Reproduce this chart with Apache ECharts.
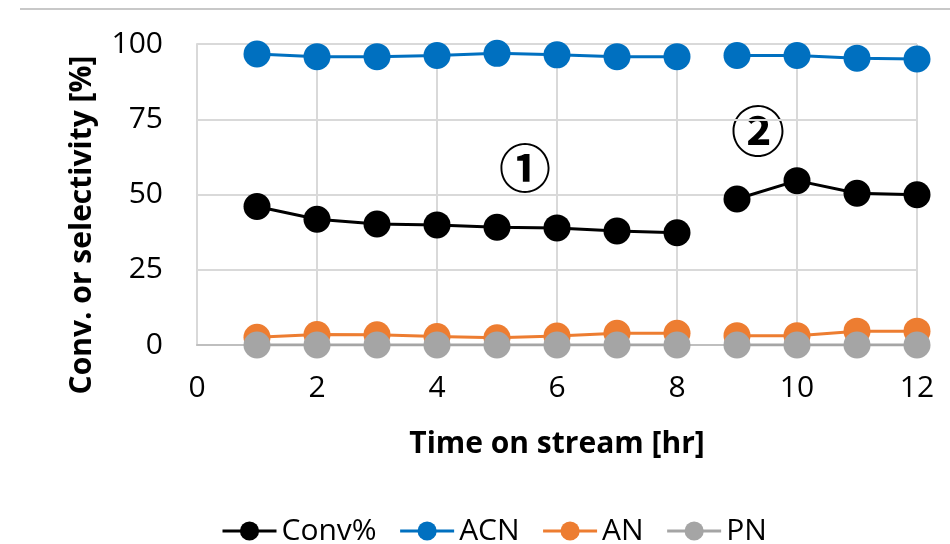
<!DOCTYPE html>
<html>
<head>
<meta charset="utf-8">
<script src="https://cdn.jsdelivr.net/npm/echarts@6/dist/echarts.min.js"></script>
<style>
  html, body { margin: 0; padding: 0; background: #fff; }
  #chart { width: 950px; height: 544px; }
</style>
</head>
<body>
<div id="chart"></div>
<script>
// Time on stream [hr]; the run is split into two stages after hour 8
const times = [1, 2, 3, 4, 5, 6, 7, 8, 9, 10, 11, 12];
const stageSplit = 8; // first index of stage 2

const conv = [46.0, 41.8, 40.2, 39.9, 39.1, 38.9, 37.9, 37.3, 48.5, 54.6, 50.4, 49.9];
const acn  = [96.7, 95.8, 95.8, 96.2, 96.9, 96.4, 95.8, 95.8, 96.2, 96.2, 95.3, 95.0];
const an   = [2.6, 3.5, 3.4, 2.8, 2.4, 3.0, 3.9, 3.9, 3.1, 3.1, 4.6, 4.6];
const pn   = [0, 0, 0, 0, 0, 0, 0, 0, 0, 0, 0, 0];

const xTicks = { min: 0, max: 12, interval: 2 };
const yTicks = { min: 0, max: 100, interval: 25 };

const seriesDefs = [
  { name: 'Conv%', values: conv, color: '#000000' },
  { name: 'ACN',   values: acn,  color: '#0070C0' },
  { name: 'AN',    values: an,   color: '#ED7D31' },
  { name: 'PN',    values: pn,   color: '#A5A5A5' }
];

const FONT = '"Open Sans", "Noto Sans", sans-serif';

// each compound gets two line pieces, one per stage, sharing a legend name
const series = [];
seriesDefs.forEach(def => {
  const pairs = times.map((t, i) => [t, def.values[i]]);
  [pairs.slice(0, stageSplit), pairs.slice(stageSplit)].forEach(part => {
    series.push({
      name: def.name,
      type: 'line',
      data: part,
      symbol: 'circle',
      symbolSize: 27,
      showSymbol: true,
      itemStyle: { color: def.color },
      lineStyle: { color: def.color, width: 3 },
      emphasis: { disabled: true },
      animation: false
    });
  });
});

const chart = echarts.init(document.getElementById('chart'));
chart.setOption({
  animation: false,
  grid: { left: 197, right: 33, top: 44, bottom: 199 },
  xAxis: {
    type: 'value',
    min: xTicks.min, max: xTicks.max, interval: xTicks.interval,
    name: 'Time on stream [hr]',
    nameLocation: 'middle',
    nameGap: 84,
    nameTextStyle: { fontFamily: FONT, fontSize: 30, fontWeight: 'bold', color: '#000' },
    axisLine: { show: true, lineStyle: { color: '#bfbfbf', width: 2 } },
    axisTick: { show: false },
    axisLabel: { fontFamily: FONT, fontSize: 30, color: '#000', margin: 28 },
    splitLine: { show: true, lineStyle: { color: '#d9d9d9', width: 2 } }
  },
  yAxis: {
    type: 'value',
    min: yTicks.min, max: yTicks.max, interval: yTicks.interval,
    axisLine: { show: true, lineStyle: { color: '#d9d9d9', width: 2 } },
    axisTick: { show: false },
    axisLabel: { fontFamily: FONT, fontSize: 30, color: '#000', margin: 34 },
    splitLine: { show: true, lineStyle: { color: '#d9d9d9', width: 2 } }
  },
  legend: {
    data: seriesDefs.map(d => d.name),
    left: 216,
    top: 511,
    itemWidth: 54,
    itemHeight: 24,
    itemGap: 22,
    lineStyle: { width: 3 },
    textStyle: { fontFamily: FONT, fontSize: 30, color: '#000' },
    selectedMode: false
  },
  graphic: [
    {
      type: 'line',
      shape: { x1: 20, y1: 9, x2: 950, y2: 9 },
      style: { stroke: '#c8c8c8', lineWidth: 2 },
      silent: true
    },
    {
      type: 'text',
      x: 82, y: 225,
      rotation: Math.PI / 2,
      style: {
        text: 'Conv. or selectivity [%]',
        font: 'bold 30px ' + FONT,
        fill: '#000',
        align: 'center',
        verticalAlign: 'middle'
      }
    },
    {
      type: 'text',
      x: 525, y: 168,
      style: {
        text: '①',
        font: 'bold 52px "Noto Sans CJK JP", sans-serif',
        fill: '#000',
        align: 'center',
        verticalAlign: 'middle'
      }
    },
    {
      type: 'text',
      x: 758, y: 131,
      style: {
        text: '②',
        font: 'bold 54px "Noto Sans CJK JP", sans-serif',
        fill: '#000',
        align: 'center',
        verticalAlign: 'middle'
      }
    }
  ],
  series: series
});
</script>
</body>
</html>
